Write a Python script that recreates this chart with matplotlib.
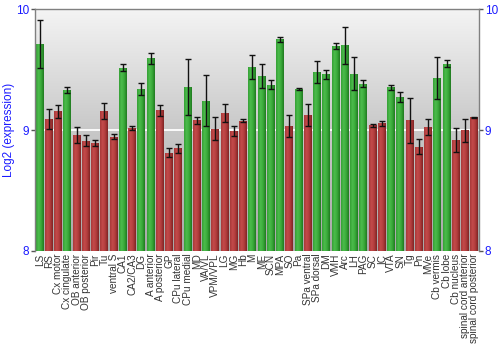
import numpy as np
import matplotlib
matplotlib.use("Agg")
import matplotlib.pyplot as plt

plt.rcParams['font.family'] = ['Liberation Sans', 'DejaVu Sans']

regions = ["LS", "RS", "Cx motor", "Cx cingulate", "OB anterior", "OB posterior",
           "Pir", "Tu", "ventral S", "CA1", "CA2/CA3", "DG", "A anterior",
           "A posterior", "GP", "CPu lateral", "CPu medial", "MD", "VA/VL",
           "VPM/VPL", "LG", "MG", "Hb", "M", "ME", "SCN", "MPA", "SO", "Pa",
           "SPa ventral", "SPa dorsal", "DM", "VMH", "Arc", "LH", "PAG", "SC",
           "IC", "VTA", "SN", "Tg", "Pn", "MVe", "Cb vermis", "Cb lobe",
           "Cb nucleus", "spinal cord anterior", "spinal cord posterior"]

expression = [9.71, 9.09, 9.156, 9.332, 8.96, 8.91, 8.893, 9.158, 8.945, 9.517,
              9.017, 9.34, 9.594, 9.164, 8.813, 8.849, 9.357, 9.081, 9.243,
              9.012, 9.139, 8.993, 9.078, 9.522, 9.445, 9.373, 9.752, 9.034,
              9.338, 9.122, 9.48, 9.462, 9.694, 9.702, 9.465, 9.382, 9.04,
              9.056, 9.354, 9.274, 9.081, 8.863, 9.026, 9.431, 9.55, 8.918,
              8.998, 9.106]

error = [0.2, 0.085, 0.055, 0.025, 0.065, 0.045, 0.025, 0.065, 0.023, 0.025,
         0.02, 0.048, 0.044, 0.045, 0.04, 0.036, 0.23, 0.03, 0.21, 0.094,
         0.075, 0.042, 0.015, 0.1, 0.1, 0.037, 0.02, 0.088, 0.008, 0.09,
         0.088, 0.038, 0.022, 0.153, 0.135, 0.029, 0.011, 0.019, 0.022,
         0.039, 0.185, 0.063, 0.066, 0.171, 0.028, 0.1, 0.095, 0.004]

y_ticks = [8, 9, 10]
baseline = 8
threshold = 9.2

fig = plt.figure(figsize=(5, 3.5), dpi=100)
ax_rect = [0.07, 0.283, 0.888, 0.691]
ax = fig.add_axes(ax_rect)
n = len(regions)
x = np.arange(n)

# vertical gray gradient behind the bars, light at the top
bg = np.linspace(0, 1, 256).reshape(-1, 1)
bg_cmap = matplotlib.colors.LinearSegmentedColormap.from_list(
    "bg", ["#f4f4f4", "#c8c8c8", "#a8a8a8"])
ax.imshow(bg, cmap=bg_cmap, aspect='auto', extent=(-0.5, n - 0.5, 8, 10),
          origin='upper', zorder=0)
ax.axhline(9, color='white', lw=1.3, zorder=1)

green_cmap = matplotlib.colors.LinearSegmentedColormap.from_list(
    "g", ["#35a035", "#4cbc4c", "#38a838", "#207a20"])
red_cmap = matplotlib.colors.LinearSegmentedColormap.from_list(
    "r", ["#a83a3a", "#c44a4a", "#b03c3c", "#7e2424"])
shade = np.linspace(0, 1, 64).reshape(1, -1)

width = 0.86
heights = np.array(expression) - baseline
bars = ax.bar(x, heights, width=width, bottom=baseline, color='none',
              edgecolor='none', zorder=2)
for xi, val, rect in zip(x, expression, bars):
    cmap = green_cmap if val > threshold else red_cmap
    im = ax.imshow(shade, cmap=cmap, aspect='auto',
                   extent=(xi - width / 2, xi + width / 2, baseline, val),
                   zorder=2)
    im.set_clip_path(rect)

ax.errorbar(x, expression, yerr=error, fmt='none', ecolor='#111111',
            elinewidth=1, capsize=2, capthick=1, zorder=3)

ax.set_xlim(-0.5, n - 0.5)
ax.set_ylim(8, 10)

ax.set_xticks(x)
ax.set_xticklabels(regions, rotation=90, fontsize=7.2, color='#333333')
ax.tick_params(axis='x', length=0, pad=2)

ax.set_yticks(y_ticks)
ax.set_yticklabels([str(t) for t in y_ticks])
ax.tick_params(axis='y', which='both', left=True, right=True, labelleft=True,
               labelright=True, direction='out', length=3, width=1,
               color='#555555', labelcolor='#1a1aff', labelsize=8.5, pad=1)
fig.text(0.018, ax_rect[1] + ax_rect[3] / 2, "Log2 (expression)",
         color='#1a1aff', fontsize=8.5, rotation=90, ha='center', va='center')

for side in ('top', 'left', 'right'):
    ax.spines[side].set_color('#808080')
    ax.spines[side].set_linewidth(1)
ax.spines['bottom'].set_visible(False)

fig.savefig("out.png", dpi=100)
